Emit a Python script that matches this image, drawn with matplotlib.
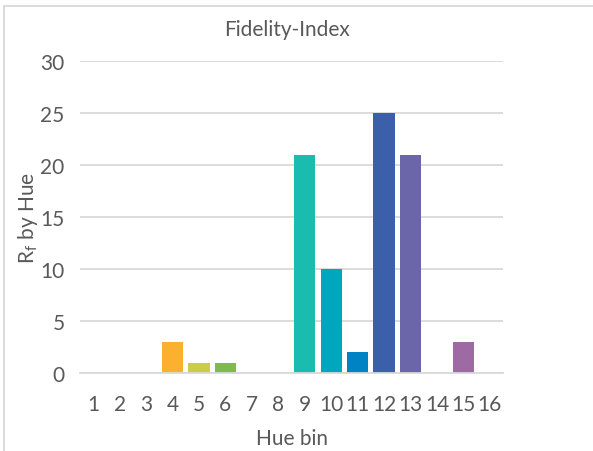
import matplotlib.pyplot as plt
from matplotlib.patches import Rectangle

# chart data
bins = [str(i) for i in range(1, 17)]
values = [0, 0, 0, 3, 1, 1, 0, 0, 21, 10, 2, 25, 21, 0, 3, 0]
colors = ['#F9B233', '#F9B233', '#F9B233', '#FBB12F', '#CCCC4B', '#7FBA4F',
          '#7FBA4F', '#1ABCAF', '#1ABCAF', '#00A6BE', '#0083C4', '#3B5FA8',
          '#6B65AA', '#9E6AA3', '#9E6AA3', '#9E6AA3']
yticks = [0, 5, 10, 15, 20, 25, 30]

plt.rcParams['font.family'] = ['Lato', 'DejaVu Sans']
txt = '#595959'
grid = '#D9D9D9'

fig = plt.figure(figsize=(5.93, 4.52), dpi=100)
ax = fig.add_axes([80 / 593, 1 - 374 / 452, (503 - 80) / 593, (374 - 62) / 452])

x = list(range(len(bins)))
ax.bar(x, values, width=0.8, color=colors, zorder=3)

ax.set_xlim(-0.5, len(bins) - 0.5)
ax.set_ylim(0, 30)
ax.set_yticks(yticks)
ax.set_xticks(x)
ax.set_xticklabels(bins)
ax.tick_params(length=0, labelsize=15, colors=txt)
ax.tick_params(axis='x', pad=15)
ax.tick_params(axis='y', pad=11)
ax.grid(axis='y', color=grid, linewidth=1.3, zorder=0)
for s in ['top', 'right', 'left']:
    ax.spines[s].set_visible(False)
ax.spines['bottom'].set_color(grid)
ax.spines['bottom'].set_linewidth(1.3)
ax.spines['bottom'].set_zorder(4)

ax.set_xlabel('Hue bin', fontsize=15, color=txt, labelpad=10)
ax.set_ylabel(r'R$_\mathregular{f}$ by Hue', fontsize=15, color=txt)
ax.yaxis.set_label_coords(-0.095, 0.5)
fig.text(287 / 593, 1 - 30 / 452, 'Fidelity-Index', ha='center', va='center',
         fontsize=15, color=txt)

# chart frame
fig.patches.append(Rectangle((4 / 593, -0.1), 1.2, 1 - 7 / 452 + 0.1,
                             transform=fig.transFigure, fill=False,
                             edgecolor='#D9D9D9', linewidth=1.3))

fig.savefig('out.png', dpi=100)
